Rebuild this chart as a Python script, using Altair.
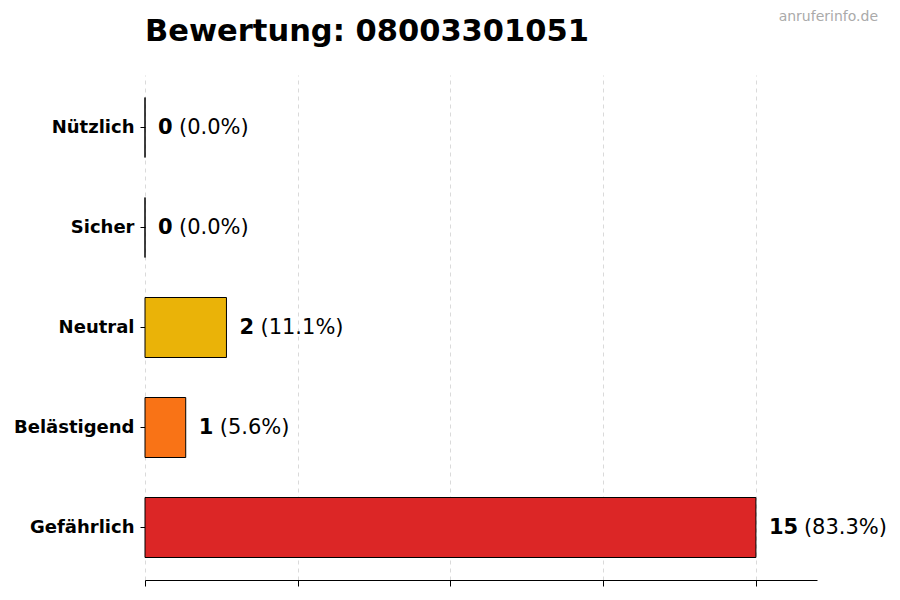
import altair as alt
import pandas as pd

categories = ["Nützlich", "Sicher", "Neutral", "Belästigend", "Gefährlich"]
counts = [0, 0, 2, 1, 15]
colors = ["#16a34a", "#2563eb", "#eab308", "#f97316", "#dc2626"]
title_text = "Bewertung: 08003301051"
watermark = "anruferinfo.de"
x_ticks = [0, 3.75, 7.5, 11.25, 15]
x_max = 16.5

total = sum(counts)
df = pd.DataFrame({"cat": categories, "count": counts, "color": colors})
df["pct"] = ["(%.1f%%)" % (c / total * 100) for c in counts]
df["digits"] = df["count"].astype(str).str.len()

FONT = "DejaVu Sans"
base = alt.Chart(df)

y = alt.Y(
    "cat:N",
    sort=categories,
    scale=alt.Scale(paddingInner=0.4, paddingOuter=0.225),
    axis=alt.Axis(
        title=None, labelFont=FONT, labelFontWeight="bold", labelFontSize=18,
        labelColor="black", domain=False, tickColor="black", tickSize=5,
        labelPadding=6, grid=False,
    ),
)
x = alt.X(
    "count:Q",
    scale=alt.Scale(domain=[0, x_max], nice=False, zero=True),
    axis=alt.Axis(
        title=None, labels=False, values=x_ticks, tickColor="black", tickSize=6,
        domainColor="black", grid=True, gridDash=[4, 4], gridColor="#d0d0d0",
        gridWidth=0.8,
    ),
)

bars = base.mark_bar(stroke="black", strokeWidth=1).encode(
    x=x, y=y, color=alt.Color("color:N", scale=None)
)

ysimple = alt.Y("cat:N", sort=categories)
nums = base.mark_text(
    align="left", baseline="middle", dx=13, font=FONT, fontWeight="bold",
    fontSize=21, color="black",
).encode(x="count:Q", y=ysimple, text="count:Q")

pct1 = base.transform_filter("datum.digits == 1").mark_text(
    align="left", baseline="middle", dx=34, font=FONT, fontSize=21, color="black",
).encode(x="count:Q", y=ysimple, text="pct:N")

pct2 = base.transform_filter("datum.digits == 2").mark_text(
    align="left", baseline="middle", dx=48, font=FONT, fontSize=21, color="black",
).encode(x="count:Q", y=ysimple, text="pct:N")

wm = alt.Chart(pd.DataFrame({"t": [watermark]})).mark_text(
    align="right", baseline="middle", font=FONT, fontSize=14, color="#aaaaaa",
).encode(x=alt.value(733), y=alt.value(-58), text="t:N")

ttl = alt.Chart(pd.DataFrame({"t": [title_text]})).mark_text(
    align="left", baseline="alphabetic", font=FONT, fontSize=30.5,
    fontWeight="bold", color="black",
).encode(x=alt.value(0), y=alt.value(-34), text="t:N")

chart = (
    alt.layer(bars, nums, pct1, pct2, wm, ttl)
    .properties(
        width=672, height=505,
        autosize=alt.AutoSizeParams(type="none"),
        padding={"left": 137, "top": 67, "right": 75, "bottom": 12},
    )
    .configure_view(stroke=None)
)

chart.save("out.html", embed_options={"renderer": "svg", "actions": False})
